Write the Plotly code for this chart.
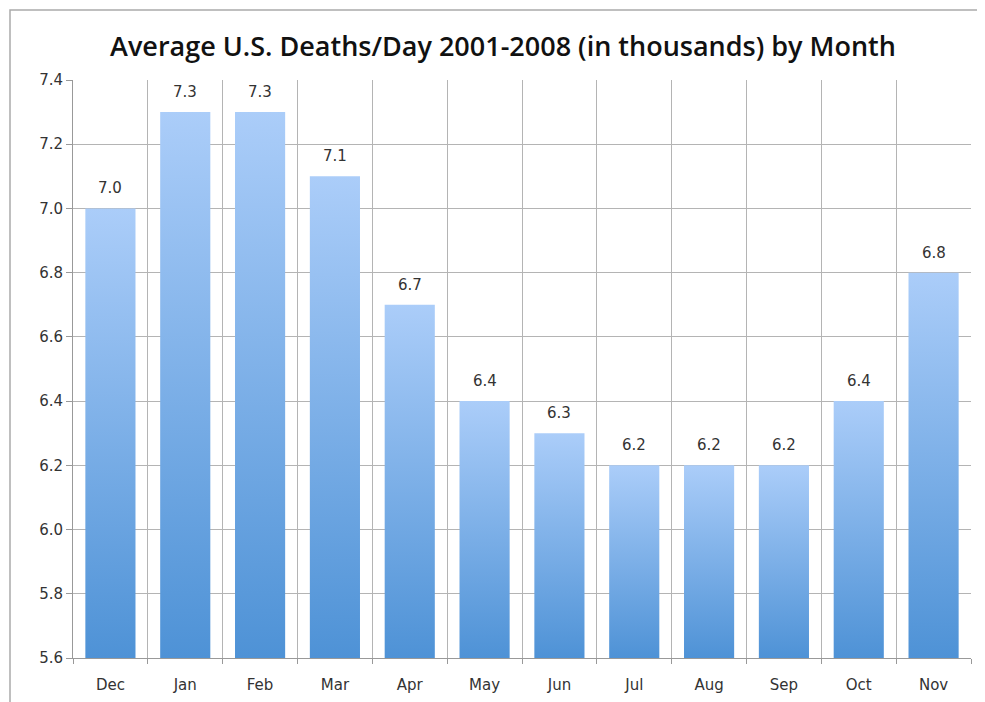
import plotly.graph_objects as go

months = ["Dec", "Jan", "Feb", "Mar", "Apr", "May", "Jun", "Jul", "Aug", "Sep", "Oct", "Nov"]
deaths = [7.0, 7.3, 7.3, 7.1, 6.7, 6.4, 6.3, 6.2, 6.2, 6.2, 6.4, 6.8]
y_ticks = [5.6, 5.8, 6.0, 6.2, 6.4, 6.6, 6.8, 7.0, 7.2, 7.4]

y_min, y_max = 5.6, 7.4
half_w = 0.335
top_color = "#abcdf9"
bottom_color = "#4e92d6"

fig = go.Figure()

for i, v in enumerate(deaths):
    xs = [i - half_w, i + half_w, i + half_w, i - half_w, i - half_w]
    ys = [y_min, y_min, v, v, y_min]
    fig.add_trace(go.Scatter(
        x=xs, y=ys, mode="lines", fill="toself",
        line=dict(width=0),
        fillgradient=dict(type="vertical", start=y_min, stop=v,
                          colorscale=[[0, bottom_color], [1, top_color]]),
        hoverinfo="skip", showlegend=False,
    ))

annotations = [
    dict(x=i, y=v, xref="x", yref="y", text=f"{v:.1f}", showarrow=False,
         yanchor="bottom", xanchor="center", yshift=9,
         font=dict(size=15, color="#333333", family="DejaVu Sans"))
    for i, v in enumerate(deaths)
]

# dummy trace for label axis
fig.add_trace(go.Scatter(x=[0], y=[y_min], xaxis="x2", mode="markers",
                         marker=dict(opacity=0), showlegend=False, hoverinfo="skip"))

boundaries = [i - 0.5 for i in range(len(months) + 1)]

W, H = 977, 694
L, R, T, B = 65, 14, 72, 44
pw, ph = W - L - R, H - T - B

fig.update_layout(
    width=W, height=H,
    margin=dict(l=L, r=R, t=T, b=B, autoexpand=False),
    paper_bgcolor="white", plot_bgcolor="white",
    title=dict(text="Average U.S. Deaths/Day 2001-2008 (in thousands) by Month",
               x=495 / W, xanchor="center", y=1 - 39 / H, yanchor="middle",
               font=dict(size=27, color="#111111", family="Open Sans", weight=600)),
    xaxis=dict(range=[-0.5, len(months) - 0.5], tickmode="array", tickvals=boundaries,
               showticklabels=False, showgrid=True, gridcolor="#b4b4b4", gridwidth=1,
               ticks="outside", ticklen=5, tickcolor="#999999", automargin=False,
               showline=True, linecolor="#999999", linewidth=1, zeroline=False, mirror=False),
    xaxis2=dict(range=[-0.5, len(months) - 0.5], overlaying="x", side="bottom",
                tickmode="array", tickvals=list(range(len(months))), ticktext=months,
                showgrid=False, ticks="", ticklabelstandoff=16, automargin=False,
                showline=False, zeroline=False,
                tickfont=dict(size=15, color="#333333", family="DejaVu Sans")),
    yaxis=dict(range=[y_min, y_max], tickmode="array", tickvals=y_ticks,
               ticktext=[f"{t:.1f}" for t in y_ticks], automargin=False,
               showgrid=True, gridcolor="#b4b4b4", gridwidth=1,
               ticks="outside", ticklen=6, tickcolor="#999999",
               showline=True, linecolor="#999999", zeroline=False,
               tickfont=dict(size=15, color="#333333", family="DejaVu Sans")),
    annotations=annotations,
    shapes=[dict(type="rect", xref="paper", yref="paper",
                 x0=(2 - L) / pw, y0=-0.3, x1=1.2, y1=1 + (T - 2) / ph,
                 line=dict(color="#aaaaaa", width=1.5), layer="below")],
)

fig.write_html("out.html")
